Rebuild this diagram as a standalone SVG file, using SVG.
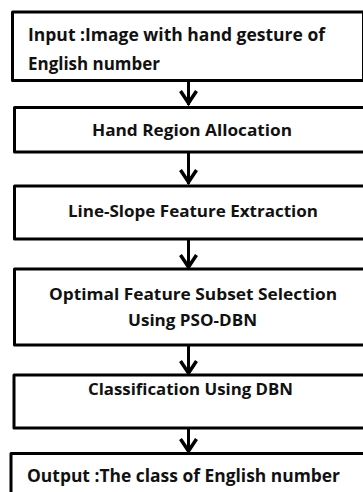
<svg xmlns="http://www.w3.org/2000/svg" width="363" height="492" viewBox="0 0 363 492">
<style>
.box{fill:#fff;stroke:#000;stroke-width:3;stroke-linejoin:round}
.t{font-family:"Open Sans","Liberation Sans",sans-serif;font-weight:bold;fill:#111}
.c{stroke:#000;stroke-width:3;fill:none}
.h{stroke:#000;stroke-width:3.5;fill:none;stroke-linecap:butt;stroke-linejoin:miter}
</style>
<rect width="363" height="492" fill="#fff"/>
<g id="connectors">
<line class="c" x1="188.5" y1="81" x2="188.5" y2="105"/>
<path class="h" d="M180.5 91 L188.5 103 L196.5 91"/>
<line class="c" x1="188.5" y1="152" x2="188.5" y2="184"/>
<path class="h" d="M180.5 170 L188.5 182 L196.5 170"/>
<line class="c" x1="188.5" y1="239" x2="188.5" y2="267"/>
<path class="h" d="M180.5 255 L188.5 267 L196.5 255"/>
<line class="c" x1="188.5" y1="345" x2="188.5" y2="373"/>
<path class="h" d="M180.5 361 L188.5 373 L196.5 361"/>
<line class="c" x1="188.5" y1="428" x2="188.5" y2="451"/>
<path class="h" d="M180.5 439 L188.5 451 L196.5 439"/>
</g>
<g id="n1">
<rect class="box" x="12.5" y="12" width="351" height="68.5"/>
<text class="t" x="28" y="41" font-size="17.5" textLength="297" lengthAdjust="spacingAndGlyphs">Input :Image with hand gesture of</text>
<text class="t" x="28" y="70" font-size="17.5" textLength="132" lengthAdjust="spacingAndGlyphs">English number</text>
</g>
<g id="n2">
<rect class="box" x="14.5" y="107.5" width="360" height="44.5"/>
<text class="t" x="92" y="136" font-size="16" textLength="200" lengthAdjust="spacingAndGlyphs">Hand Region Allocation</text>
</g>
<g id="n3">
<rect class="box" x="14.5" y="186" width="360" height="53"/>
<text class="t" x="68" y="217" font-size="16" textLength="250" lengthAdjust="spacingAndGlyphs">Line-Slope Feature Extraction</text>
</g>
<g id="n4">
<rect class="box" x="14.5" y="269" width="360" height="76"/>
<text class="t" x="49" y="300" font-size="16" textLength="288" lengthAdjust="spacingAndGlyphs">Optimal Feature Subset Selection</text>
<text class="t" x="128" y="326" font-size="16" textLength="129" lengthAdjust="spacingAndGlyphs">Using PSO-DBN</text>
</g>
<g id="n5">
<rect class="box" x="14" y="375" width="360" height="53"/>
<text class="t" x="88" y="395" font-size="16" textLength="205" lengthAdjust="spacingAndGlyphs">Classification  Using DBN</text>
</g>
<g id="n6">
<rect class="box" x="11" y="453.5" width="360" height="50"/>
<text class="t" x="27" y="482" font-size="17.5" textLength="313" lengthAdjust="spacingAndGlyphs">Output :The class of English number</text>
</g>
</svg>
